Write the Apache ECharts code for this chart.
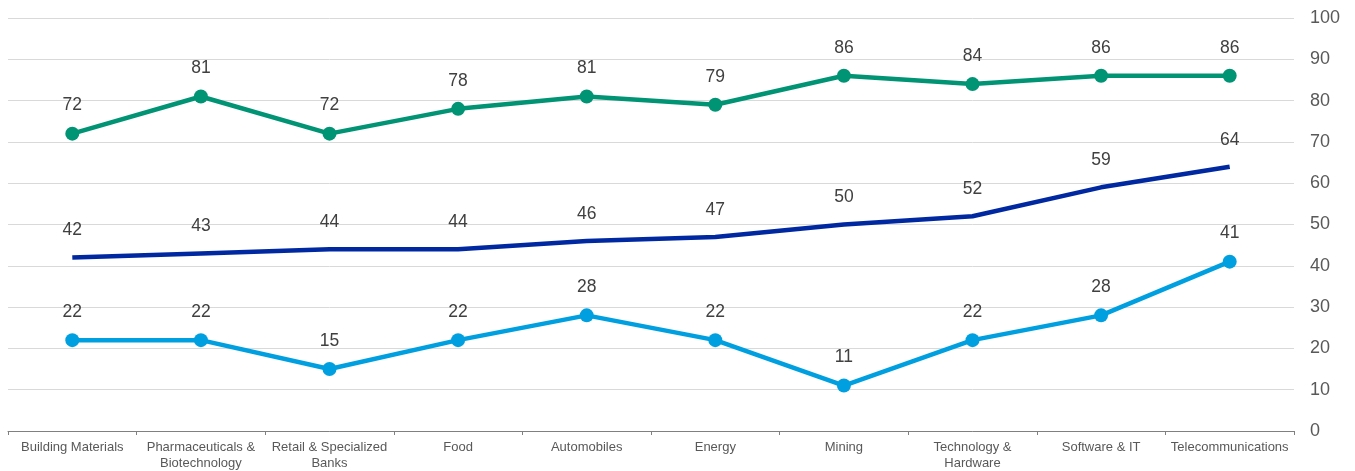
<!DOCTYPE html>
<html><head><meta charset="utf-8">
<script src="https://cdn.jsdelivr.net/npm/echarts@6/dist/echarts.min.js"></script>
<style>html,body{margin:0;padding:0;background:#fff}#c{width:1355px;height:471px}</style>
</head><body><div id="c"></div>
<script>
var categories = ['Building Materials','Pharmaceuticals &\nBiotechnology','Retail & Specialized\nBanks','Food','Automobiles','Energy','Mining','Technology &\nHardware','Software & IT','Telecommunications'];
var greenValues = [72,81,72,78,81,79,86,84,86,86];
var navyValues = [42,43,44,44,46,47,50,52,59,64];
var lightValues = [22,22,15,22,28,22,11,22,28,41];
var yTicks = [0,10,20,30,40,50,60,70,80,90,100];

var chart = echarts.init(document.getElementById('c'));
var lbl = {show:true, position:'top', color:'#404040', fontSize:17.5, fontFamily:'Liberation Sans'};
chart.setOption({
  animation:false,
  grid:{left:8, right:61, top:18, bottom:40},
  xAxis:{type:'category', data:categories, boundaryGap:true,
    axisLine:{lineStyle:{color:'#808080', width:1}},
    axisTick:{show:true, length:4, lineStyle:{color:'#808080'}},
    axisLabel:{color:'#595959', fontSize:13, fontFamily:'Liberation Sans', margin:8, lineHeight:16, interval:0}},
  yAxis:{type:'value', position:'right', min:0, max:100, interval:10,
    axisLine:{show:false}, axisTick:{show:false},
    axisLabel:{color:'#595959', fontSize:18, fontFamily:'Liberation Sans', margin:16,
      formatter:function(v){return yTicks.indexOf(v)>=0?String(v):'';}},
    splitLine:{lineStyle:{color:'#d9d9d9', width:1}}},
  series:[
    {type:'line', data:greenValues, symbol:'circle', symbolSize:14, lineStyle:{color:'#009474', width:4.5}, itemStyle:{color:'#009474'}, label:Object.assign({},lbl,{distance:12})},
    {type:'line', data:navyValues, symbol:'circle', symbolSize:0, showSymbol:true, lineStyle:{color:'#0028a0', width:4.5}, itemStyle:{color:'#0028a0'}, label:Object.assign({},lbl,{distance:18})},
    {type:'line', data:lightValues, symbol:'circle', symbolSize:14, lineStyle:{color:'#00a0e0', width:4.5}, itemStyle:{color:'#00a0e0'}, label:Object.assign({},lbl,{distance:12})}
  ]
});
</script></body></html>
